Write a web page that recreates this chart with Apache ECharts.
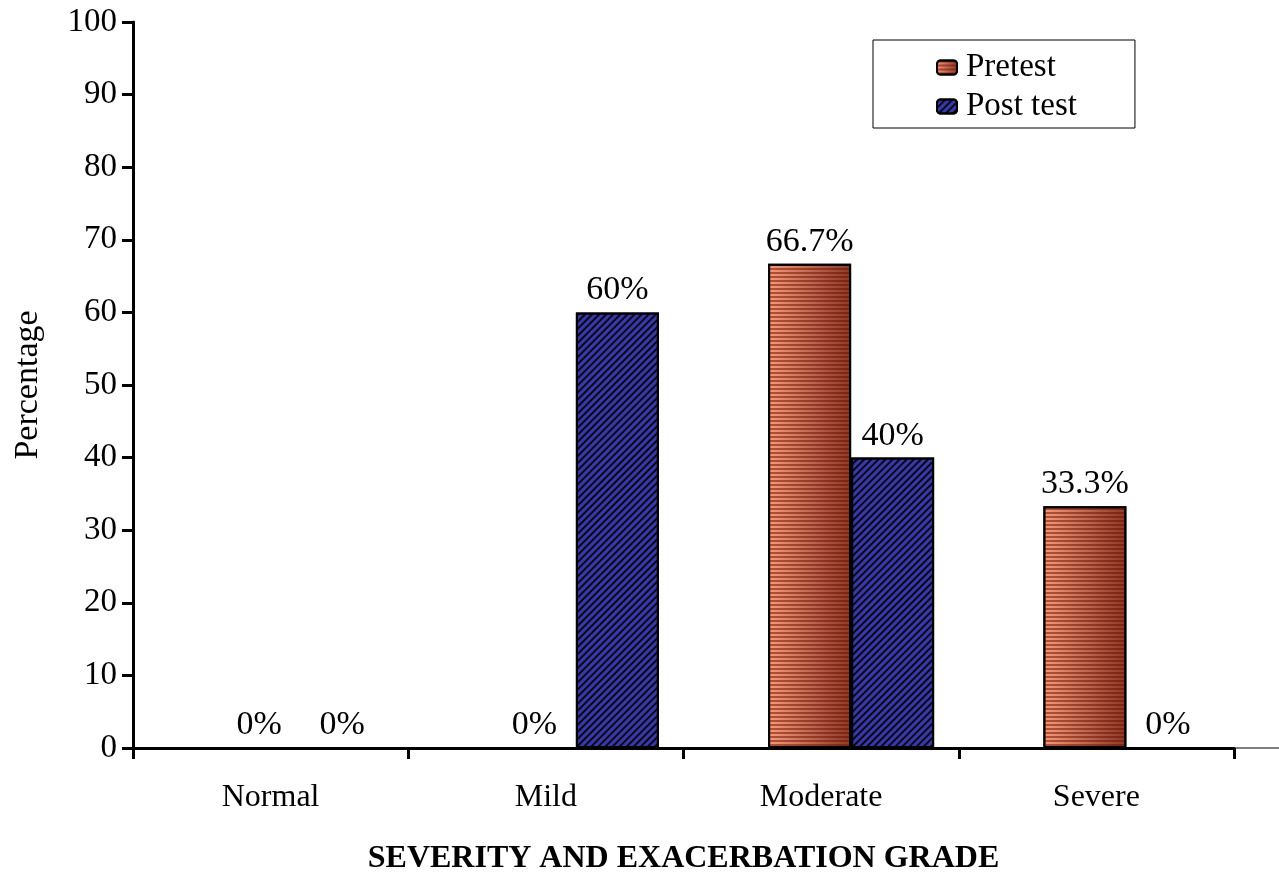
<!DOCTYPE html>
<html>
<head>
<meta charset="utf-8">
<script src="https://cdn.jsdelivr.net/npm/echarts@6/dist/echarts.min.js"></script>
<style>
html,body{margin:0;padding:0;background:#fff;}
#chart{width:1279px;height:873px;}
</style>
</head>
<body>
<div id="chart"></div>
<script>
const categories = ['Normal', 'Mild', 'Moderate', 'Severe'];
const pretest = [0, 0, 66.7, 33.3];
const posttest = [0, 60, 40, 0];
const pretestLabels = ['0%', '0%', '66.7%', '33.3%'];
const posttestLabels = ['0%', '60%', '40%', '0%'];
const yTicks = [0, 10, 20, 30, 40, 50, 60, 70, 80, 90, 100];

const FONT = "'Liberation Serif', 'Times New Roman', serif";
const chart = echarts.init(document.getElementById('chart'), null, {renderer: 'canvas'});

const option = {
  animation: false,
  backgroundColor: '#fff',
  aria: {enabled: true, decal: {show: true}},
  textStyle: {fontFamily: FONT, color: '#000'},
  legend: {
    orient: 'vertical',
    left: 873,
    top: 40,
    padding: [11, 58, 5, 63],
    itemGap: 6,
    itemWidth: 20,
    itemHeight: 14,
    borderColor: '#000',
    borderWidth: 1,
    textStyle: {fontFamily: FONT, fontSize: 33, color: '#000', padding: [0, 0, 0, 4]},
    data: ['Pretest', 'Post test']
  },
  grid: [
    {left: 133, right: 45, top: 22, bottom: 125, containLabel: false, outerBoundsMode: 'none'},
    {left: 163, right: 15, top: 22, bottom: 125, containLabel: false, outerBoundsMode: 'none'}
  ],
  xAxis: [
    {
      type: 'category',
      gridIndex: 0,
      data: categories,
      name: 'SEVERITY AND EXACERBATION GRADE',
      nameLocation: 'middle',
      nameGap: 95,
      nameTextStyle: {fontFamily: FONT, fontWeight: 'bold', fontSize: 32, color: '#000', verticalAlign: 'top'},
      axisLine: {lineStyle: {color: '#000', width: 3}},
      axisTick: {show: true, interval: 0, length: 11, inside: false, lineStyle: {color: '#000', width: 3}},
      axisLabel: {interval: 0, margin: 34, fontFamily: FONT, fontSize: 32, color: '#000'},
      splitLine: {show: false}
    },
    {
      type: 'category',
      gridIndex: 1,
      data: categories,
      show: false
    }
  ],
  yAxis: [
    {
      type: 'value',
      gridIndex: 0,
      min: 0,
      max: 100,
      interval: 10,
      name: 'Percentage',
      nameLocation: 'middle',
      nameGap: 88,
      nameRotate: 90,
      nameTextStyle: {fontFamily: FONT, fontSize: 34, color: '#000'},
      axisLine: {show: true, lineStyle: {color: '#000', width: 3}},
      axisTick: {show: true, length: 11, lineStyle: {color: '#000', width: 3}},
      axisLabel: {margin: 16, fontFamily: FONT, fontSize: 33, color: '#000',
        formatter: v => yTicks.includes(v) ? String(v) : ''},
      splitLine: {show: false}
    },
    {
      type: 'value',
      gridIndex: 1,
      min: 0,
      max: 100,
      interval: 10,
      show: false,
      splitLine: {show: false}
    }
  ],
  graphic: [
    {type: 'line', shape: {x1: 1234, y1: 748, x2: 1279, y2: 748}, style: {stroke: '#000', lineWidth: 1}}
  ],
  series: [
    {
      name: 'Pretest',
      type: 'bar',
      xAxisIndex: 1,
      yAxisIndex: 1,
      data: pretest,
      barWidth: 83,
      barGap: '0%',
      itemStyle: {
        color: new echarts.graphic.LinearGradient(0, 0, 1, 0, [
          {offset: 0, color: '#f59a78'},
          {offset: 1, color: '#8a3a28'}
        ]),
        borderColor: '#000',
        borderWidth: 2,
        decal: {
          symbol: 'rect',
          symbolSize: 1,
          color: 'rgba(110,10,0,0.5)',
          dashArrayX: [1, 0],
          dashArrayY: [2, 2],
          rotation: 0
        }
      },
      label: {
        show: true,
        position: 'top',
        distance: 5,
        fontFamily: FONT,
        fontSize: 34,
        color: '#000',
        formatter: p => pretestLabels[p.dataIndex]
      }
    },
    {
      name: 'Post test',
      type: 'bar',
      xAxisIndex: 1,
      yAxisIndex: 1,
      data: posttest,
      barWidth: 83,
      barGap: '0%',
      itemStyle: {
        color: '#3838a8',
        borderColor: '#000',
        borderWidth: 2,
        decal: {
          symbol: 'rect',
          symbolSize: 1,
          color: 'rgba(0,0,0,0.85)',
          dashArrayX: [1, 0],
          dashArrayY: [2, 3],
          rotation: -Math.PI / 4
        }
      },
      label: {
        show: true,
        position: 'top',
        distance: 5,
        fontFamily: FONT,
        fontSize: 34,
        color: '#000',
        formatter: p => posttestLabels[p.dataIndex]
      }
    }
  ]
};
chart.setOption(option);
</script>
</body>
</html>
